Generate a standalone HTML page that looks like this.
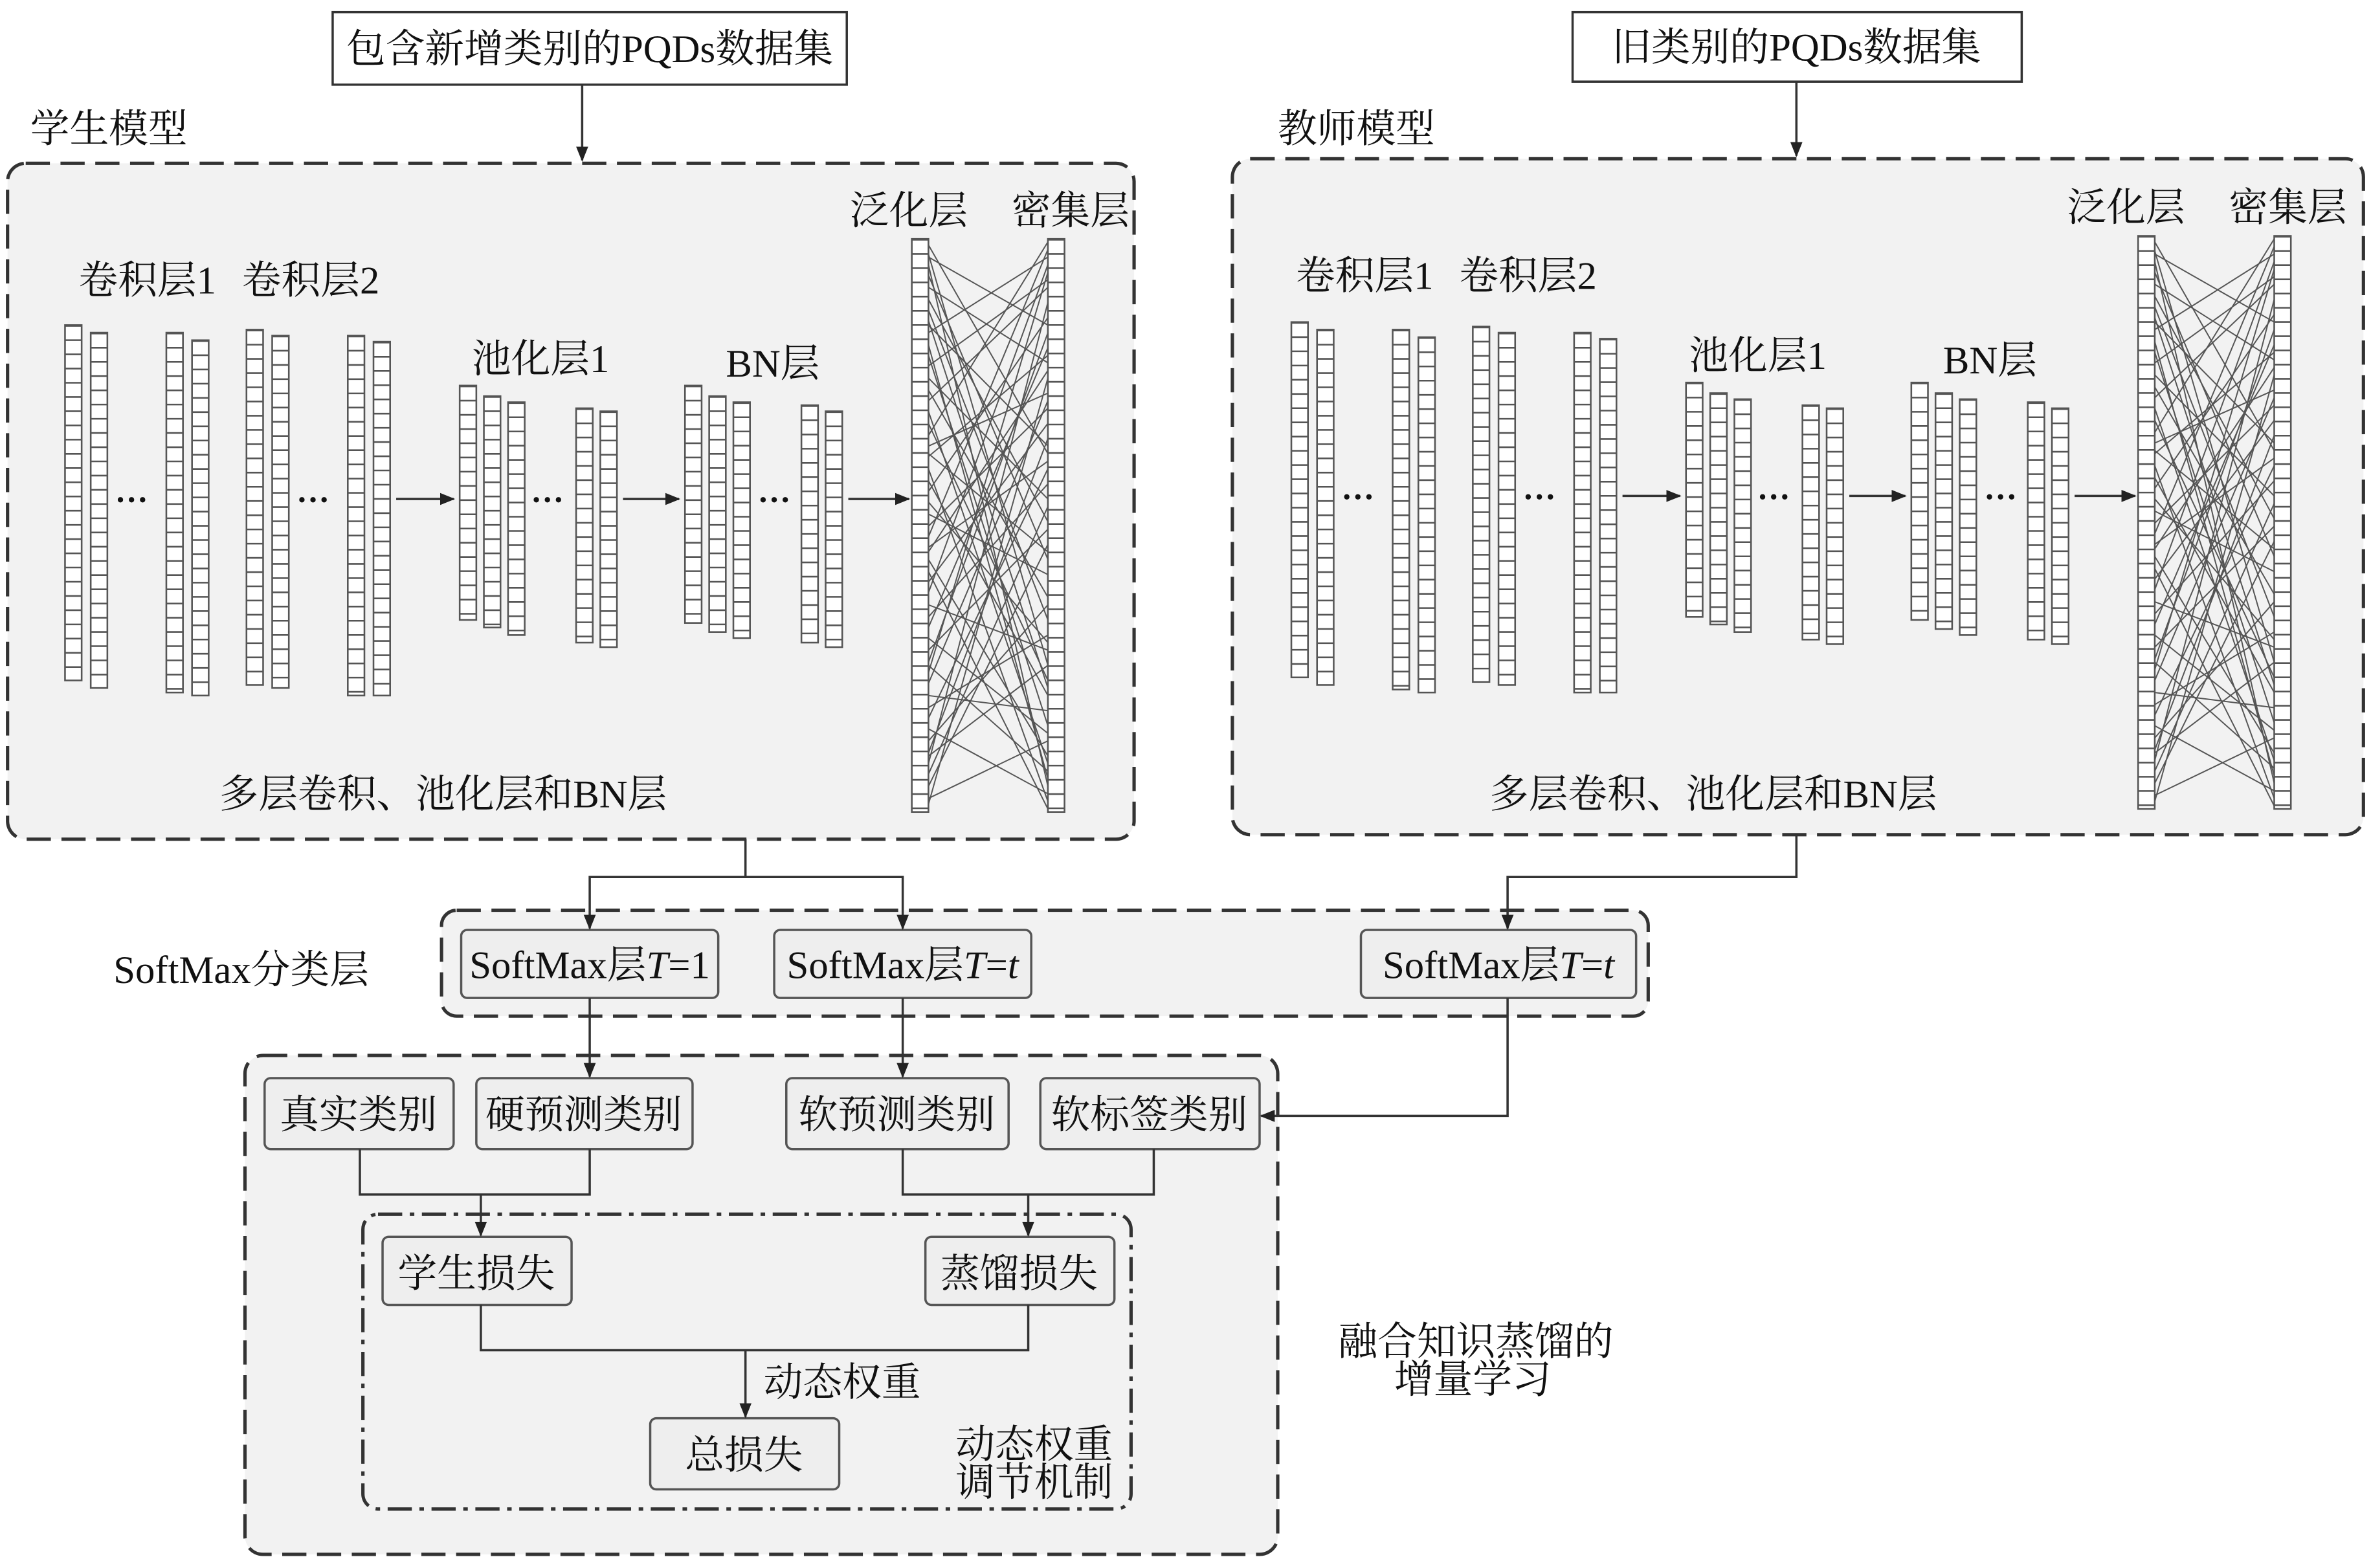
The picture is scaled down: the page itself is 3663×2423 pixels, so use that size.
<!DOCTYPE html>
<html><head><meta charset="utf-8"><style>
html,body{margin:0;padding:0;background:#fff;}
svg{display:block}
text{font-family:"Liberation Serif","Noto Serif CJK SC","Noto Sans CJK SC",serif;fill:#111;}
</style></head><body>
<svg xmlns="http://www.w3.org/2000/svg" width="3663" height="2423" viewBox="0 0 1568 1037" preserveAspectRatio="none">
<defs><marker id="a" markerWidth="10" markerHeight="10" refX="9" refY="5" orient="auto" markerUnits="userSpaceOnUse"><path d="M0,1 L10,5 L0,9 z" fill="#222"/></marker>
<g id="model">
<g fill="#fff" stroke="#555" stroke-width="1.1">
<rect x="43" y="215" width="11" height="235"/><rect x="60" y="220" width="11" height="235"/>
<rect x="110" y="220" width="11" height="238"/><rect x="127" y="225" width="11" height="235"/>
<rect x="163" y="218" width="11" height="235"/><rect x="180" y="222" width="11" height="233"/>
<rect x="230" y="222" width="11" height="238"/><rect x="247" y="226" width="11" height="234"/>
<rect x="304" y="255" width="11" height="155"/><rect x="320" y="262" width="11" height="153"/><rect x="336" y="266" width="11" height="154"/>
<rect x="381" y="270" width="11" height="155"/><rect x="397" y="272" width="11" height="156"/>
<rect x="453" y="255" width="11" height="157"/><rect x="469" y="262" width="11" height="156"/><rect x="485" y="266" width="11" height="156"/>
<rect x="530" y="268" width="11" height="157"/><rect x="546" y="272" width="11" height="156"/>
</g>
<g stroke="#555" stroke-width="0.85">
<line x1="614" y1="162" x2="693" y2="300"/><line x1="614" y1="175" x2="693" y2="520"/><line x1="614" y1="190" x2="693" y2="240"/>
<line x1="614" y1="205" x2="693" y2="410"/><line x1="614" y1="220" x2="693" y2="170"/><line x1="614" y1="235" x2="693" y2="480"/>
<line x1="614" y1="250" x2="693" y2="330"/><line x1="614" y1="265" x2="693" y2="190"/><line x1="614" y1="280" x2="693" y2="450"/>
<line x1="614" y1="295" x2="693" y2="260"/><line x1="614" y1="310" x2="693" y2="530"/><line x1="614" y1="325" x2="693" y2="210"/>
<line x1="614" y1="340" x2="693" y2="380"/><line x1="614" y1="355" x2="693" y2="165"/><line x1="614" y1="370" x2="693" y2="500"/>
<line x1="614" y1="385" x2="693" y2="280"/><line x1="614" y1="400" x2="693" y2="430"/><line x1="614" y1="415" x2="693" y2="230"/>
<line x1="614" y1="430" x2="693" y2="350"/><line x1="614" y1="445" x2="693" y2="180"/><line x1="614" y1="460" x2="693" y2="470"/>
<line x1="614" y1="475" x2="693" y2="310"/><line x1="614" y1="490" x2="693" y2="400"/><line x1="614" y1="505" x2="693" y2="200"/>
<line x1="614" y1="520" x2="693" y2="360"/><line x1="614" y1="532" x2="693" y2="250"/><line x1="614" y1="168" x2="693" y2="440"/>
<line x1="614" y1="198" x2="693" y2="345"/><line x1="614" y1="228" x2="693" y2="515"/><line x1="614" y1="258" x2="693" y2="395"/>
<line x1="614" y1="288" x2="693" y2="160"/><line x1="614" y1="318" x2="693" y2="460"/><line x1="614" y1="348" x2="693" y2="270"/>
<line x1="614" y1="378" x2="693" y2="535"/><line x1="614" y1="408" x2="693" y2="320"/><line x1="614" y1="438" x2="693" y2="220"/>
<line x1="614" y1="468" x2="693" y2="420"/><line x1="614" y1="498" x2="693" y2="290"/><line x1="614" y1="528" x2="693" y2="490"/>
<line x1="614" y1="182" x2="693" y2="370"/><line x1="614" y1="212" x2="693" y2="455"/><line x1="614" y1="242" x2="693" y2="185"/>
<line x1="614" y1="272" x2="693" y2="505"/><line x1="614" y1="302" x2="693" y2="235"/><line x1="614" y1="332" x2="693" y2="425"/>
<line x1="614" y1="362" x2="693" y2="305"/><line x1="614" y1="392" x2="693" y2="175"/><line x1="614" y1="422" x2="693" y2="485"/>
<line x1="614" y1="452" x2="693" y2="265"/><line x1="614" y1="482" x2="693" y2="525"/><line x1="614" y1="512" x2="693" y2="335"/>
<line x1="614" y1="170" x2="693" y2="215"/><line x1="614" y1="300" x2="693" y2="365"/><line x1="614" y1="440" x2="693" y2="510"/>
<line x1="614" y1="500" x2="693" y2="440"/><line x1="614" y1="215" x2="693" y2="295"/><line x1="614" y1="365" x2="693" y2="245"/>
</g>
<g fill="#fff" stroke="#555" stroke-width="1.1">
<rect x="603" y="158" width="11" height="379"/><rect x="693" y="158" width="11" height="379"/>
</g>
<g stroke="#555" stroke-width="11" stroke-dasharray="1.1,8.3">
<line x1="48.5" y1="215" x2="48.5" y2="450"/><line x1="65.5" y1="220" x2="65.5" y2="455"/>
<line x1="115.5" y1="220" x2="115.5" y2="458"/><line x1="132.5" y1="225" x2="132.5" y2="460"/>
<line x1="168.5" y1="218" x2="168.5" y2="453"/><line x1="185.5" y1="222" x2="185.5" y2="455"/>
<line x1="235.5" y1="222" x2="235.5" y2="460"/><line x1="252.5" y1="226" x2="252.5" y2="460"/>
<line x1="309.5" y1="255" x2="309.5" y2="410"/><line x1="325.5" y1="262" x2="325.5" y2="415"/><line x1="341.5" y1="266" x2="341.5" y2="420"/>
<line x1="386.5" y1="270" x2="386.5" y2="425"/><line x1="402.5" y1="272" x2="402.5" y2="428"/>
<line x1="458.5" y1="255" x2="458.5" y2="412"/><line x1="474.5" y1="262" x2="474.5" y2="418"/><line x1="490.5" y1="266" x2="490.5" y2="422"/>
<line x1="535.5" y1="268" x2="535.5" y2="425"/><line x1="551.5" y1="272" x2="551.5" y2="428"/>
<line x1="608.5" y1="158" x2="608.5" y2="537"/><line x1="698.5" y1="158" x2="698.5" y2="537"/>
</g>
<g font-size="22" font-weight="bold">
<text x="76" y="338">···</text><text x="196" y="338">···</text><text x="351" y="338">···</text><text x="501" y="338">···</text>
</g>
<g stroke="#333" stroke-width="1.5">
<line x1="262" y1="330" x2="300" y2="330" marker-end="url(#a)"/>
<line x1="412" y1="330" x2="449" y2="330" marker-end="url(#a)"/>
<line x1="561" y1="330" x2="601" y2="330" marker-end="url(#a)"/>
</g>
</g>
</defs>
<g fill="#fff" stroke="#333" stroke-width="1.5">
<rect x="220" y="8" width="340" height="48"/>
<rect x="1040" y="8" width="297" height="46"/>
</g>
<g stroke="#333" stroke-width="1.5" fill="none">
<line x1="385" y1="56" x2="385" y2="106" marker-end="url(#a)"/>
<line x1="1188" y1="54" x2="1188" y2="103" marker-end="url(#a)"/>
</g>
<g fill="#f2f2f2" stroke="#333" stroke-width="2.2" stroke-dasharray="16,7">
<rect x="5" y="108" width="745" height="447" rx="12"/>
<rect x="815" y="105" width="748" height="447" rx="12"/>
<rect x="292" y="602" width="798" height="70" rx="10"/>
<rect x="162" y="698" width="683" height="330" rx="12"/>
</g>
<rect x="240" y="803" width="508" height="195" rx="10" fill="none" stroke="#333" stroke-width="2.2" stroke-dasharray="16,5,3,5"/>
<use href="#model"/>
<use href="#model" transform="translate(811,-2)"/>
<g fill="#eee" stroke="#555" stroke-width="1.5">
<rect x="305" y="615" width="170" height="45" rx="4"/>
<rect x="512" y="615" width="170" height="45" rx="4"/>
<rect x="900" y="615" width="182" height="45" rx="4"/>
<rect x="175" y="713" width="125" height="47" rx="4"/>
<rect x="315" y="713" width="143" height="47" rx="4"/>
<rect x="520" y="713" width="147" height="47" rx="4"/>
<rect x="688" y="713" width="145" height="47" rx="4"/>
<rect x="253" y="818" width="125" height="45" rx="4"/>
<rect x="612" y="818" width="125" height="45" rx="4"/>
<rect x="430" y="938" width="125" height="47" rx="4"/>
</g>
<g stroke="#333" stroke-width="1.5" fill="none">
<polyline points="493,555 493,580 390,580 390,614" marker-end="url(#a)"/>
<polyline points="493,580 597,580 597,614" marker-end="url(#a)"/>
<polyline points="1188,552 1188,580 997,580 997,614" marker-end="url(#a)"/>
<line x1="390" y1="660" x2="390" y2="712" marker-end="url(#a)"/>
<line x1="597" y1="660" x2="597" y2="712" marker-end="url(#a)"/>
<polyline points="997,660 997,738 834,738" marker-end="url(#a)"/>
<polyline points="238,760 238,790 390,790 390,760"/>
<line x1="318" y1="790" x2="318" y2="817" marker-end="url(#a)"/>
<polyline points="597,760 597,790 763,790 763,760"/>
<line x1="680" y1="790" x2="680" y2="817" marker-end="url(#a)"/>
<polyline points="318,863 318,893 680,893 680,863"/>
<line x1="493" y1="893" x2="493" y2="937" marker-end="url(#a)"/>
</g>
<g font-size="26">
<text x="390" y="41" text-anchor="middle">包含新增类别的PQDs数据集</text>
<text x="1188" y="40" text-anchor="middle">旧类别的PQDs数据集</text>
<text x="20" y="94">学生模型</text>
<text x="845" y="94">教师模型</text>
<text x="52" y="194">卷积层1</text><text x="160" y="194">卷积层2</text>
<text x="312" y="246">池化层1</text><text x="480" y="249">BN层</text>
<text x="562" y="148">泛化层</text><text x="669" y="148">密集层</text>
<text x="293" y="534" text-anchor="middle">多层卷积、池化层和BN层</text>
<text x="857" y="191">卷积层1</text><text x="965" y="191">卷积层2</text>
<text x="1117" y="244">池化层1</text><text x="1285" y="247">BN层</text>
<text x="1367" y="146">泛化层</text><text x="1474" y="146">密集层</text>
<text x="1133" y="534" text-anchor="middle">多层卷积、池化层和BN层</text>
<text x="75" y="650">SoftMax分类层</text>
<text x="390" y="647" text-anchor="middle">SoftMax层<tspan font-style="italic">T</tspan>=1</text>
<text x="597" y="647" text-anchor="middle">SoftMax层<tspan font-style="italic">T</tspan>=<tspan font-style="italic">t</tspan></text>
<text x="991" y="647" text-anchor="middle">SoftMax层<tspan font-style="italic">T</tspan>=<tspan font-style="italic">t</tspan></text>
<text x="237" y="746" text-anchor="middle">真实类别</text>
<text x="386" y="746" text-anchor="middle">硬预测类别</text>
<text x="593" y="746" text-anchor="middle">软预测类别</text>
<text x="760" y="746" text-anchor="middle">软标签类别</text>
<text x="315" y="851" text-anchor="middle">学生损失</text>
<text x="674" y="851" text-anchor="middle">蒸馏损失</text>
<text x="505" y="923">动态权重</text>
<text x="492" y="971" text-anchor="middle">总损失</text>
<text x="632" y="964">动态权重</text><text x="632" y="989">调节机制</text>
<text x="885" y="896">融合知识蒸馏的</text><text x="922" y="921">增量学习</text>
</g>
</svg>
</body></html>
